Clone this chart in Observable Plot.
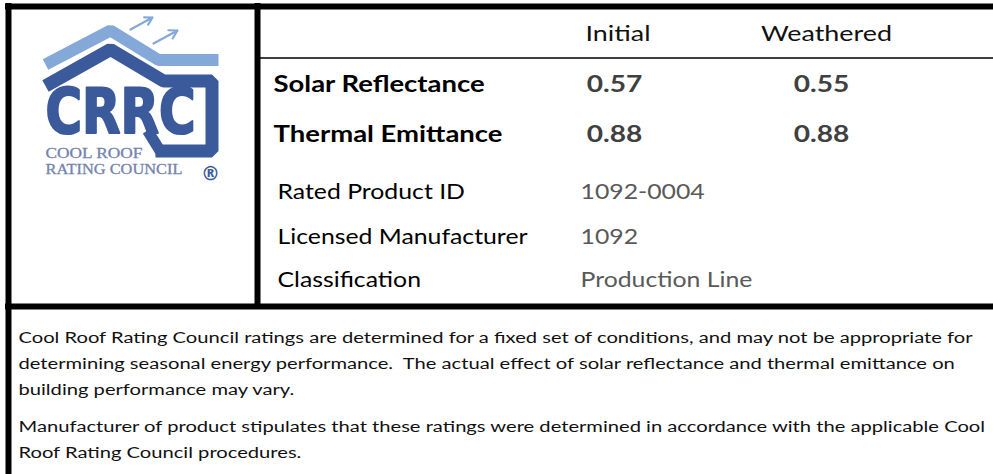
<!DOCTYPE html>
<html><head><meta charset="utf-8">
<script src="https://cdn.jsdelivr.net/npm/d3@7"></script>
<script src="https://cdn.jsdelivr.net/npm/@observablehq/plot@0.6"></script>
<style>html,body{margin:0;padding:0;background:#fff;} svg{display:block}</style>
</head><body><div id="chart"></div>
<script>
// ---------- data ----------
const columns = ["Initial", "Weathered"];
const metrics = ["Solar Reflectance", "Thermal Emittance"];
const initialValues = [0.57, 0.88];
const weatheredValues = [0.55, 0.88];
const infoLabels = ["Rated Product ID", "Licensed Manufacturer", "Classification"];
const infoValues = ["1092-0004", "1092", "Production Line"];
const noteParagraph1 = [
  "Cool Roof Rating Council ratings are determined for a fixed set of conditions, and may not be appropriate for",
  "determining seasonal energy performance.  The actual effect of solar reflectance and thermal emittance on",
  "building performance may vary."
];
const noteParagraph2 = [
  "Manufacturer of product stipulates that these ratings were determined in accordance with the applicable Cool",
  "Roof Rating Council procedures."
];
const logoWordmark = ["CRRC"];
const logoTagline = ["COOL ROOF", "RATING COUNCIL"];
const logoRegistered = ["®"];

// ---------- layout / style ----------
const W = 993, H = 474;
const DARK = "#3a5a9b", LIGHT = "#84a9d8", TAG = "#7482ad";
const SANS = "Lato, 'Open Sans', sans-serif";
const colX = [617.5, 826];
const valX = [614, 821];
const metricY = [84, 134];
const infoY = [192, 237, 280];
const para1Y = 338, para2Y = 427, lineH = 26;

const fmt = d3.format(".2f");
const valueRows = metrics.flatMap((m, i) => [
  {col: 0, row: i, v: initialValues[i]},
  {col: 1, row: i, v: weatheredValues[i]}
]);
const notes = [
  ...noteParagraph1.map((t, i) => ({t, y: para1Y + i * lineH})),
  ...noteParagraph2.map((t, i) => ({t, y: para2Y + i * lineH}))
];

const lightRoof = [[45, 64], [110, 30], [158, 59.5], [218, 59.5]];
const darkHouse = [[45, 85.5], [110, 49], [163, 80.5], [211.5, 80.5], [211.5, 150.5], [155, 150.5]];
const rLeg = [[147, 130], [160, 151]];
const arrows = [{x1: 130, y1: 29, x2: 152, y2: 17}, {x1: 153, y1: 43, x2: 177, y2: 30}];

const chart = Plot.plot({
  width: W, height: H, margin: 0,
  x: {domain: [0, W], range: [0, W], axis: null},
  y: {domain: [0, H], range: [0, H], axis: null},
  style: {background: "#fff"},
  marks: [
    // borders
    Plot.ruleY([6], {x1: 5, x2: W, stroke: "#000", strokeWidth: 6}),
    Plot.ruleX([8], {y1: 3, y2: H, stroke: "#000", strokeWidth: 6}),
    Plot.ruleX([257], {y1: 3, y2: 306, stroke: "#000", strokeWidth: 6}),
    Plot.ruleY([306], {x1: 5, x2: W, stroke: "#000", strokeWidth: 6}),
    Plot.ruleY([57.5], {x1: 260, x2: W, stroke: "#000", strokeWidth: 1.5}),
    // logo
    Plot.line(lightRoof, {x: d => d[0], y: d => d[1], stroke: LIGHT, strokeWidth: 12, strokeLinejoin: "miter", strokeLinecap: "butt", curve: "linear"}),
    Plot.line(darkHouse, {x: d => d[0], y: d => d[1], stroke: DARK, strokeWidth: 13, strokeLinejoin: "miter", strokeLinecap: "butt", curve: "linear"}),
    Plot.line(rLeg, {x: d => d[0], y: d => d[1], stroke: DARK, strokeWidth: 11, strokeLinecap: "butt"}),
    Plot.arrow(arrows, {x1: "x1", y1: "y1", x2: "x2", y2: "y2", stroke: LIGHT, strokeWidth: 2.2, headLength: 7}),
    Plot.text(logoWordmark, {x: () => 45, y: () => 113, text: d => d, textAnchor: "start", fontFamily: "'DejaVu Sans', sans-serif", fontWeight: 700, fontSize: 62, fill: DARK, stroke: DARK, strokeWidth: 2.2}),
    Plot.text(logoTagline, {x: () => 45, y: (d, i) => 153 + i * 15.5, text: d => d, textAnchor: "start", fontFamily: "'Liberation Serif', serif", fontSize: 14.5, fill: TAG, stroke: TAG, strokeWidth: 0.3}),
    Plot.text(logoRegistered, {x: () => 210, y: () => 173, text: d => d, fontFamily: "'DejaVu Sans', sans-serif", fontWeight: 700, fontSize: 19, fill: DARK}),
    // header
    Plot.text(columns, {x: (d, i) => colX[i], y: () => 34, text: d => d, fontFamily: SANS, fontSize: 21, fill: "#111"}),
    // metrics
    Plot.text(metrics, {x: () => 273, y: (d, i) => metricY[i], text: d => d, textAnchor: "start", fontFamily: SANS, fontWeight: 700, fontSize: 23, fill: "#000"}),
    Plot.text(valueRows, {x: d => valX[d.col], y: d => metricY[d.row], text: d => fmt(d.v), fontFamily: SANS, fontWeight: 700, fontSize: 23.5, fill: "#404040"}),
    // info
    Plot.text(infoLabels, {x: () => 277, y: (d, i) => infoY[i], text: d => d, textAnchor: "start", fontFamily: SANS, fontSize: 21, fill: "#000"}),
    Plot.text(infoValues, {x: () => 580, y: (d, i) => infoY[i], text: d => d, textAnchor: "start", fontFamily: SANS, fontSize: 21, fill: "#595959"}),
    // notes
    Plot.text(notes, {x: () => 18, y: d => d.y, text: d => d.t, textAnchor: "start", fontFamily: SANS, fontSize: 15.5, fill: "#111"})
  ]
});
document.getElementById("chart").appendChild(chart);

// horizontal fitting of text to the reference's proportions
function fit(strings, ref, target) {
  const nodes = Array.from(chart.querySelectorAll("text")).filter(t => strings.includes(t.textContent));
  const r = nodes.find(t => t.textContent === ref);
  if (!r) return;
  const k = target / r.getComputedTextLength();
  nodes.forEach(t => {
    const w = t.getComputedTextLength();
    t.setAttribute("textLength", w * k);
    t.setAttribute("lengthAdjust", "spacingAndGlyphs");
  });
}
fit(columns, "Initial", 65);
fit([...metrics, ...valueRows.map(d => fmt(d.v))], "Thermal Emittance", 229);
fit([...infoLabels, ...infoValues], "Licensed Manufacturer", 250);
fit([...noteParagraph1, ...noteParagraph2], noteParagraph1[0], 954);
fit(logoWordmark, "CRRC", 150);
fit([logoTagline[0]], "COOL ROOF", 97);
fit([logoTagline[1]], "RATING COUNCIL", 137);
</script>
</body></html>
